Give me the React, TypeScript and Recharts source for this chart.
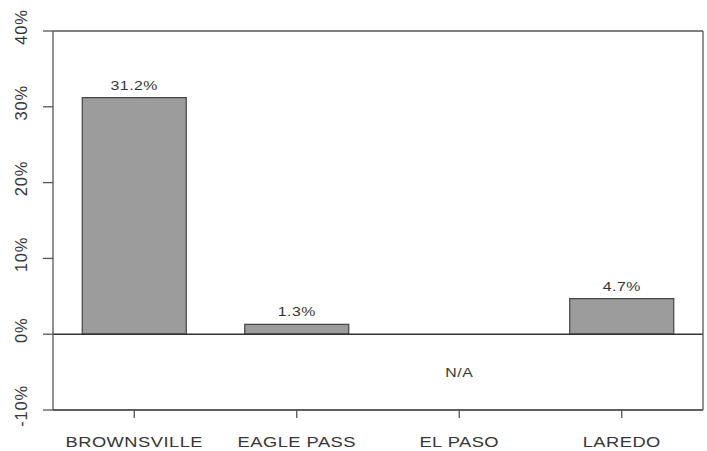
import {
  Bar,
  BarChart,
  CartesianGrid,
  LabelList,
  ReferenceDot,
  ReferenceLine,
  XAxis,
  YAxis,
} from "recharts";

const cities = ["BROWNSVILLE", "EAGLE PASS", "EL PASO", "LAREDO"];
const shares: (number | null)[] = [31.2, 1.3, null, 4.7];
const shareLabels = ["31.2%", "1.3%", "N/A", "4.7%"];
const yTicks = [-10, 0, 10, 20, 30, 40];

const chartData = cities.map((city, i) => ({
  city,
  share: shares[i],
  label: shareLabels[i],
}));

const ink = "#363636";
const font = "'Liberation Sans', Arial, sans-serif";

// the scan is a bit wider than it is tall, so horizontal text gets stretched
function WideText({ x, y, size, children }: any) {
  return (
    <text
      transform={`translate(${x}, ${y}) scale(1.22, 1)`}
      textAnchor="middle"
      fill={ink}
      fontSize={size}
      letterSpacing={0.4}
      fontFamily={font}
    >
      {children}
    </text>
  );
}

function YTick({ y, payload }: any) {
  return (
    <text
      transform={`translate(27, ${y - 4}) rotate(-90)`}
      textAnchor="middle"
      fill={ink}
      fontSize={16.5}
      letterSpacing={0.8}
      fontFamily={font}
    >
      {`${payload.value}%`}
    </text>
  );
}

function XTick({ x, y, payload }: any) {
  return (
    <WideText x={x} y={y + 29} size={15}>
      {payload.value}
    </WideText>
  );
}

function ValueLabel({ x, y, width, value }: any) {
  if (value == null || y == null) return null;
  return (
    <WideText x={x + width / 2} y={y - 8} size={13}>
      {value}
    </WideText>
  );
}

function NaLabel({ viewBox }: any) {
  const { x, y } = viewBox;
  return (
    <WideText x={x} y={y + 5} size={13}>
      {shareLabels[2]}
    </WideText>
  );
}

export default function App() {
  return (
    <div style={{ position: "absolute", left: 0, top: 0, background: "#fff" }}>
      <BarChart
        width={707}
        height={451}
        data={chartData}
        margin={{ top: 31, right: 3, bottom: 0, left: 0 }}
        barCategoryGap="18%"
      >
        <CartesianGrid vertical={false} stroke="#555" strokeWidth={1.3} />
        <XAxis
          dataKey="city"
          height={41}
          interval={0}
          tickSize={8}
          tickMargin={0}
          axisLine={{ stroke: "#555", strokeWidth: 1.3 }}
          tickLine={{ stroke: "#555", strokeWidth: 1.3 }}
          tick={<XTick />}
        />
        <YAxis
          yAxisId="left"
          width={53}
          domain={[-10, 40]}
          ticks={yTicks}
          allowDataOverflow
          tickSize={10}
          axisLine={{ stroke: "#555", strokeWidth: 1.3 }}
          tickLine={{ stroke: "#555", strokeWidth: 1.3 }}
          tick={<YTick />}
        />
        <YAxis
          yAxisId="right"
          orientation="right"
          width={1}
          domain={[-10, 40]}
          tick={false}
          tickLine={false}
          axisLine={{ stroke: "#555", strokeWidth: 1.3 }}
        />
        <ReferenceLine yAxisId="left" y={0} stroke="#333" strokeWidth={1.5} />
        <Bar
          yAxisId="left"
          dataKey="share"
          fill="#9c9c9c"
          stroke="#444"
          strokeWidth={1.2}
          isAnimationActive={false}
        >
          <LabelList dataKey="label" content={<ValueLabel />} />
        </Bar>
        <ReferenceDot
          yAxisId="left"
          x="EL PASO"
          y={-5}
          r={0}
          stroke="none"
          fill="none"
          label={<NaLabel />}
        />
      </BarChart>
    </div>
  );
}
